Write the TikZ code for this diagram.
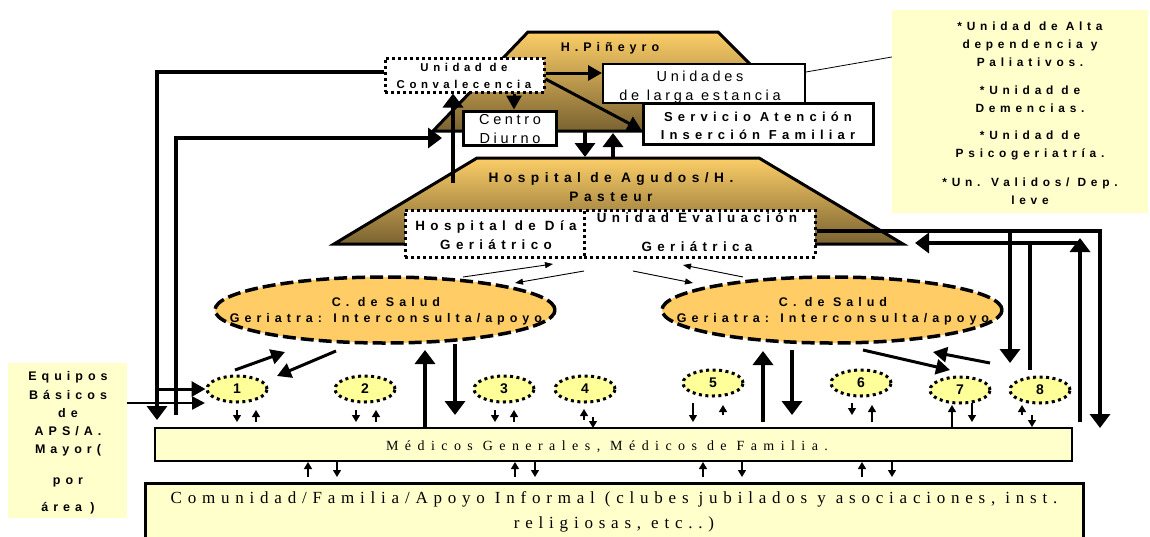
\documentclass[tikz,border=0pt]{standalone}
\usepackage{fontspec}
\setmainfont{Liberation Sans}
\newfontfamily\bsp[LetterSpace=40]{Liberation Sans}
\newfontfamily\rsp[LetterSpace=25]{Liberation Sans}
\newfontfamily\tsp[LetterSpace=46]{Liberation Serif}
\newfontfamily\tcom[LetterSpace=34]{Liberation Serif}
\usetikzlibrary{arrows.meta,shapes.geometric}
\definecolor{trtop}{RGB}{252,206,104}
\definecolor{trbot}{RGB}{122,98,48}
\definecolor{orng}{RGB}{255,204,102}
\definecolor{lyel}{RGB}{255,255,153}
\definecolor{pyel}{RGB}{255,255,204}
\tikzset{
 bl/.style 2 args={font=\bsp\bfseries\fontsize{#1}{#2}\selectfont, align=center, inner sep=0, anchor=base},
 rl/.style={font=\rsp\fontsize{14.5}{#1}\selectfont, align=center, inner sep=0, anchor=base},
 rl/.default=19,
 trap/.style={draw, line width=3pt, top color=trtop, bottom color=trbot, line join=miter},
 dotbox/.style={draw, fill=white, line width=3pt, dash pattern=on 3pt off 3pt, inner sep=0},
 solbox/.style={draw, fill=white, line width=3pt, inner sep=0},
 csalud/.style={ellipse, draw, fill=orng, line width=3.5pt, dash pattern=on 13pt off 5pt, minimum width=340pt, minimum height=66pt, inner sep=0},
 num/.style={ellipse, draw, fill=lyel, line width=3pt, dash pattern=on 3pt off 3.5pt, minimum width=60pt, minimum height=26pt, inner sep=0, font=\bfseries\fontsize{14}{14}\selectfont},
 big/.style={line width=4.5pt, line join=miter, -{Triangle[length=14pt,width=20pt]}},
 bigl/.style={line width=4.5pt},
 mid/.style={line width=3pt, -{Triangle[length=14pt,width=15pt]}},
 thn/.style={line width=0.9pt, -{Triangle[length=8pt,width=6pt]}},
 tny/.style={line width=1.3pt, -{Triangle[length=7pt,width=8pt]}},
}
\begin{document}
\begin{tikzpicture}[x=1pt,y=-1pt]
\useasboundingbox (0,0) rectangle (1150,536);
% trapezoids
\path[trap] (433,131) -- (528,32) -- (718,32) -- (817,131) -- cycle;
\path[trap] (334,244) -- (477,158) -- (759,158) -- (903,244) -- cycle;
\node[bl={12.5}{18}] (tpin) at (610,51) {H.Piñeyro};
\node[bl={13.7}{19}] (tagu) at (611,201) {Hospital de Agudos/H.\\Pasteur};
% right list box
\node[fill=pyel, minimum width=256pt, minimum height=203pt, inner sep=0] (rbox) at (1020,111.5) {};
\node[bl={11.9}{18}] (trbox) at (1030,204.5) {*Unidad de Alta\\dependencia y\\Paliativos.\\[10pt]*Unidad de\\Demencias.\\[9pt]*Unidad de\\Psicogeriatría.\\[11pt]*Un. Validos/ Dep.\\leve};
% boxes top
\node[solbox, line width=2pt, minimum width=202pt, minimum height=39pt] (unid) at (704,83.5) {};
\draw[line width=0.8pt] (unid.east |- 0,72) -- (rbox.west |- 0,57);
\node[rl=18.3] (tunid) at (700,100) {Unidades\\de larga estancia};
\node[solbox, minimum width=230pt, minimum height=41pt] (serv) at (758,123.5) {};
\node[bl={13}{17.6}] (tserv) at (758,139.3) {Servicio Atención\\Inserción Familiar};
\node[solbox, minimum width=93pt, minimum height=34pt] (centro) at (509.5,128) {};
\node[rl=19.3] (tcentro) at (510,143.3) {Centro\\Diurno};
\node[dotbox, minimum width=159pt, minimum height=34pt] (conv) at (464.5,75) {};
\node[bl={11.4}{16.3}] (tconv) at (464,88) {Unidad de\\Convalecencia};
% dotted boxes in hospital
\node[dotbox, minimum width=179pt, minimum height=47pt] (hdia) at (494.5,233.5) {};
\node[dotbox, minimum width=231pt, minimum height=47pt] (ueval) at (699.5,233.5) {};
\node[bl={13.4}{19}] (thdia) at (496,249) {Hospital de Día\\Geriátrico};
\node[bl={13.4}{29}] (tueval) at (697,251) {Unidad Evaluación\\Geriátrica};
% top arrows
\draw[mid] (conv.east |- 0,73) -- (unid.west |- 0,73);
\draw[mid] (conv.east |- 0,79) -- (serv.west |- 0,130);
\draw[mid] (conv.south -| 514,0) -- (centro.north -| 514,0);
\draw[big] (conv.west |- 0,72) -- (157,72) -- (157,420);
\draw[big] (176,415) -- (176,138) -- (442,138);
\draw[big] (453,183) -- (453,0 |- conv.south);
\draw[big] (585,132) -- (585,157);
\draw[big] (613,157) -- (613,133);
% right lines
\draw[big] (ueval.east |- 0,231) -- ++(27,0) -- (1100,231) -- (1100,428);
\draw[big] (1010,231) -- (1010,363);
\draw[big] (1080,422) -- (1080,238);
\draw[big] (1080,243) -- (915,243);
\draw[bigl] (1030,243) -- (1030,370);
% C. de Salud
\node[csalud] (s1) at (385,310) {};
\node[bl={12.5}{16}] (ts1) at (386,322.5) {C. de Salud\\Geriatra: Interconsulta/apoyo};
\node[csalud] (s2) at (832,310) {};
\node[bl={12.5}{16}] (ts2) at (833,322.5) {C. de Salud\\Geriatra: Interconsulta/apoyo};
\draw[thn] (463,277) -- (553,264);
\draw[thn] (584,271) -- (515,283);
\draw[thn] (633,271) -- (693,283);
\draw[thn] (743,277) -- (683,265);
% small ellipses
\node[num] (e1) at (237,389) {1};
\node[num] (e2) at (365,389) {2};
\node[num] (e3) at (504,389) {3};
\node[num] (e4) at (585,389) {4};
\node[num] (e5) at (713,383) {5};
\node[num] (e6) at (861,383) {6};
\node[num] (e7) at (960,390) {7};
\node[num] (e8) at (1040,390) {8};
\draw[mid] (235,370) -- (285,352);
\draw[mid] (336,351) -- (277,376);
\draw[big] (425,429) -- (425,350);
\draw[big] (455,344) -- (455,415);
\draw[big] (763,422) -- (763,351);
\draw[big] (792,350) -- (792,415);
\draw[mid] (863,350) -- (950,370);
\draw[mid] (990,363) -- (933,352);
% Equipos
\node[fill=pyel, minimum width=119pt, minimum height=155pt, inner sep=0] (equ) at (67.5,440.5) {};
\node[bl={12.5}{18.3}] (tequ) at (68,511.5) {Equipos\\Básicos\\de\\APS/A.\\Mayor(\\[12pt]por\\[9pt]área )};
\draw[mid] (157,389) -- (e1.west |- 0,389);
\draw[line width=2.5pt, -{Triangle[length=13pt,width=13pt]}] (equ.east |- 0,403) -- (205,403);
% Medicos
\node[draw, fill=pyel, line width=2pt, minimum width=917pt, minimum height=33pt, inner sep=0] (med) at (613.5,444.5) {};
\node[font=\tsp\fontsize{14}{14}\selectfont, inner sep=0, anchor=base] (tmed) at (607,450.6) {Médicos Generales, Médicos de Familia.};
% small arrows
\draw[tny] (237,410) -- (237,422);
\draw[tny] (256,422) -- (256,410);
\draw[tny] (356,410) -- (356,422);
\draw[tny] (376,422) -- (376,410);
\draw[tny] (495,410) -- (495,422);
\draw[tny] (514,422) -- (514,410);
\draw[tny] (584,420) -- (584,409);
\draw[tny] (593,417) -- (593,428);
\draw[tny] (693,403) -- (693,422);
\draw[tny] (723,415) -- (723,405);
\draw[tny] (852,403) -- (852,415);
\draw[tny] (872,422) -- (872,405);
\draw[tny] (952,0 |- med.north) -- (952,405);
\draw[tny] (972,403) -- (972,422);
\draw[tny] (1022,415) -- (1022,405);
\draw[tny] (1032,415) -- (1032,0 |- med.north);
% Comunidad
\node[draw, fill=pyel, line width=3pt, minimum width=938pt, minimum height=77pt, inner sep=0] (com) at (614,521.5) {};
\node[font=\tcom\fontsize{17}{25}\selectfont, align=center, inner sep=0, anchor=base] (tcom) at (614,528.6) {Comunidad/Familia/Apoyo Informal (clubes jubilados y asociaciones, inst.\\religiosas, etc..)};
\draw[tny] (308,477) -- (308,462);
\draw[tny] (337,462) -- (337,477);
\draw[tny] (515,477) -- (515,462);
\draw[tny] (535,462) -- (535,477);
\draw[tny] (703,477) -- (703,462);
\draw[tny] (742,462) -- (742,477);
\draw[tny] (862,477) -- (862,462);
\draw[tny] (892,462) -- (892,477);
\end{tikzpicture}
\end{document}
